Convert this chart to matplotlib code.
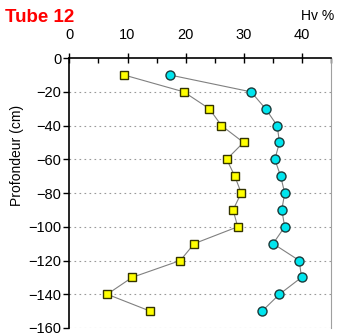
import matplotlib
matplotlib.use('Agg')
import matplotlib.pyplot as plt
from matplotlib.ticker import MultipleLocator

plt.rcParams['font.family'] = ['Liberation Sans', 'DejaVu Sans']

# depth of each measurement (cm)
depth = [-10, -20, -30, -40, -50, -60, -70, -80, -90, -100, -110, -120, -130, -140, -150]
# yellow squares
hv_a = [9.4, 19.7, 24.1, 26.2, 30.0, 27.1, 28.5, 29.6, 28.2, 29.0, 21.5, 19.1, 10.8, 6.5, 13.9]
# cyan circles
hv_b = [17.3, 31.3, 33.8, 35.8, 36.2, 35.4, 36.4, 37.1, 36.6, 37.1, 35.1, 39.6, 40.0, 36.2, 33.2]

fig = plt.figure(figsize=(3.39, 3.34), dpi=100)
ax = fig.add_axes([0.205, 0.018, 0.77, 0.808])

ax.plot(hv_a, depth, color='#808080', lw=0.8, marker='s', ms=5.5,
        mfc='#ffff00', mec='#333300', mew=1.0, zorder=3)
ax.plot(hv_b, depth, color='#808080', lw=0.8, marker='o', ms=6.5,
        mfc='#00e5ee', mec='#1a3a3a', mew=1.0, zorder=3)

ax.set_xlim(0, 45)
ax.set_ylim(-160, 0)
ax.xaxis.tick_top()
ax.set_xticks([0, 10, 20, 30, 40])
ax.xaxis.set_minor_locator(MultipleLocator(5))
ax.set_yticks(range(-160, 1, 20))

for y in range(-160, 0, 20):
    ax.axhline(y, color='#999999', lw=0.8, ls=(0, (1.5, 3)), zorder=1)

ax.spines['bottom'].set_visible(False)
ax.spines['right'].set_color('#a0a0a0')
ax.spines['left'].set_linewidth(1.2)
ax.spines['top'].set_linewidth(1.2)

ax.tick_params(axis='x', which='major', direction='inout', length=7, width=1, labelsize=10.5, pad=8)
ax.tick_params(axis='x', which='minor', direction='in', length=3.5, width=1)
ax.tick_params(axis='y', direction='out', length=4, width=1, labelsize=10.5, pad=2)

fig.text(0.05, 0.536, 'Profondeur (cm)', fontsize=10, rotation=90, ha='center', va='center')
fig.text(0.015, 0.934, 'Tube 12', color='#ff0000', fontsize=13.5, fontweight='bold')
fig.text(0.985, 0.94, 'Hv %', fontsize=10, ha='right')

fig.savefig('out.png', dpi=100)
